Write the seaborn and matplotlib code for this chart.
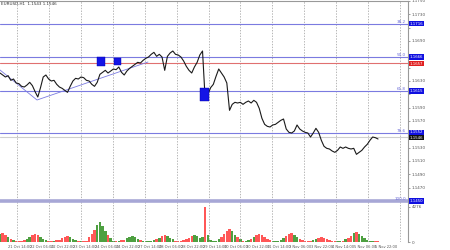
import matplotlib
matplotlib.use("Agg")
import numpy as np
import pandas as pd
import seaborn as sns
import matplotlib.pyplot as plt
import matplotlib.transforms as mtrans
from matplotlib.patches import Rectangle

# ---- data (EURUSD, 2-hour steps, 21 Oct 08:00 -> 6 Nov 00:00) ----
close = [1.1642, 1.1639, 1.1636, 1.1638, 1.1631, 1.1633, 1.1627, 1.1626, 1.1622, 1.1621,
         1.1624, 1.1628, 1.1623, 1.1614, 1.1606, 1.1620, 1.1636, 1.1639, 1.1633, 1.1630,
         1.1631, 1.1625, 1.1621, 1.1619, 1.1616, 1.1613, 1.1622, 1.1630, 1.1634, 1.1633,
         1.1636, 1.1635, 1.1631, 1.1630, 1.1625, 1.1622, 1.1628, 1.1640, 1.1643, 1.1646,
         1.1642, 1.1645, 1.1648, 1.1647, 1.1651, 1.1643, 1.1639, 1.1645, 1.1649, 1.1652,
         1.1655, 1.1658, 1.1657, 1.1661, 1.1664, 1.1666, 1.1670, 1.1673, 1.1667, 1.1670,
         1.1666, 1.1646, 1.1667, 1.1672, 1.1675, 1.1670, 1.1669, 1.1666, 1.1660, 1.1652,
         1.1646, 1.1642, 1.1651, 1.1658, 1.1669, 1.1675, 1.1601, 1.1610, 1.1620, 1.1625,
         1.1637, 1.1648, 1.1642, 1.1636, 1.1627, 1.1586, 1.1595, 1.1598, 1.1597, 1.1598,
         1.1595, 1.1598, 1.1600, 1.1597, 1.1601, 1.1598, 1.1589, 1.1574, 1.1565, 1.1562,
         1.1561, 1.1564, 1.1565, 1.1568, 1.1571, 1.1573, 1.1558, 1.1553, 1.1552, 1.1555,
         1.1564, 1.1558, 1.1555, 1.1553, 1.1552, 1.1546, 1.1552, 1.1559, 1.1553, 1.1541,
         1.1532, 1.1529, 1.1528, 1.1525, 1.1523, 1.1526, 1.1531, 1.1529, 1.1531, 1.1529,
         1.1528, 1.1529, 1.1520, 1.1523, 1.1526, 1.1531, 1.1535, 1.1541, 1.1546, 1.1545,
         1.1543]

volume = [960, 1130, 900, 620, 400, 230, 130, 110, 120, 280,
          400, 600, 860, 1010, 810, 560, 350, 200, 120, 130,
          110, 190, 300, 460, 650, 760, 610, 420, 270, 150,
          120, 130, 140, 600, 950, 1430, 2030, 2390, 1910, 1310,
          840, 480, 150, 120, 130, 190, 300, 460, 650, 760,
          610, 420, 270, 150, 120, 130, 120, 220, 350, 530,
          750, 880, 700, 480, 310, 180, 130, 120, 220, 350,
          530, 750, 880, 700, 480, 600, 4276, 900, 300, 150,
          130, 410, 660, 980, 1390, 1640, 1310, 900, 570, 330,
          150, 130, 250, 400, 610, 860, 1010, 810, 560, 350,
          200, 130, 120, 130, 280, 450, 680, 960, 1130, 900,
          620, 400, 230, 130, 120, 160, 250, 380, 540, 630,
          500, 350, 220, 130, 120, 130, 110, 120, 320, 500,
          760, 1070, 1260, 1010, 690, 440, 250, 140, 120, 110,
          100]

xtick_idx = [3, 11, 19, 27, 35, 43, 51, 59, 67, 75, 83, 91, 99, 107, 115, 123, 131, 139]
xtick_labels = ["21 Oct 14:00", "22 Oct 06:00", "22 Oct 22:00", "23 Oct 14:00",
                "24 Oct 06:00", "24 Oct 22:00", "27 Oct 14:00", "28 Oct 06:00",
                "28 Oct 22:00", "29 Oct 14:00", "30 Oct 06:00", "30 Oct 22:00",
                "31 Oct 14:00", "3 Nov 06:00", "3 Nov 22:00", "4 Nov 14:00",
                "5 Nov 06:00", "5 Nov 22:00"]

price_ticks = [1.1750, 1.1730, 1.1710, 1.1690, 1.1670, 1.1650, 1.1630, 1.1610,
               1.1590, 1.1570, 1.1550, 1.1530, 1.1510, 1.1490, 1.1470]
volume_ticks = [0, 4276]

level_names = ["38.2", "50.0", "", "61.8", "78.6", "", "100.0"]
level_prices = [1.1716, 1.1666, 1.1657, 1.1615, 1.1552, 1.1546, 1.1450]

box_start = [35.9, 42.2, 74.1]
box_end = [38.9, 44.8, 77.4]
box_low = [1.16525, 1.1654, 1.1600]
box_high = [1.1666, 1.16645, 1.16195]

trend_idx = [0, 13.7, 54.8]
trend_price = [1.16465, 1.16015, 1.16585]

title_text = "EURUSD,H1  1.1543 1.1546"

# ---- styles ----
level_line_colors = ["#7b7be0", "#7b7be0", "#e07070", "#7b7be0", "#7b7be0", "#cfcfcf", "#a7a7d6"]
level_line_widths = [0.8, 0.8, 0.8, 0.8, 0.8, 0.8, 2.6]
level_box_colors = ["#1010e0", "#1010e0", "#e02020", "#1010e0", "#1010e0", "#111111", "#1010e0"]
level_tag_offsets = [0, 0, -0.0001, 0, 0.0001, -0.0001, 0]

sns.set_style("white")
plt.rcParams["font.family"] = ["DejaVu Sans"]

df = pd.DataFrame({"idx": np.arange(len(close)), "close": close, "volume": volume})
df["up"] = df["close"].diff().fillna(0) >= 0

fig = plt.figure(figsize=(4.5, 2.5), dpi=100)
ax = fig.add_axes([0.0, 0.032, 0.9067, 0.964])
axv = ax.twinx()
axv.set_zorder(0)
ax.set_zorder(1)
ax.patch.set_visible(False)

# volume histogram
vcolors = np.where(df["up"], "#2f8f1f", "#ff3a3a")
axv.bar(df["idx"], df["volume"], width=0.9, color=vcolors, alpha=0.85, linewidth=0)
axv.set_ylim(0, 4276 * 241 / 35)
axv.set_yticks(volume_ticks)
axv.set_yticklabels([str(v) for v in volume_ticks])
axv.tick_params(axis="y", labelsize=3, length=1.5, width=0.4, pad=1, colors="#555555")
for s in axv.spines.values():
    s.set_visible(False)

# horizontal levels
for p, c, w in zip(level_prices, level_line_colors, level_line_widths):
    ax.axhline(p, color=c, lw=w, zorder=1)

# trend line
ax.plot(trend_idx, trend_price, color="#7b7be0", lw=0.6, zorder=2)

# price line
sns.lineplot(data=df, x="idx", y="close", ax=ax, color="#1a1a1a", lw=0.8, zorder=3)

# boxes
for x0, x1, lo, hi in zip(box_start, box_end, box_low, box_high):
    ax.add_patch(Rectangle((x0, lo), x1 - x0, hi - lo, facecolor="#1414e6",
                           edgecolor="#0000aa", lw=0.3, zorder=4))

ax.set_xlim(0, 151.1)
ax.set_ylim(1.1750 - 241 * 0.00015, 1.1750)

# price ticks: hide labels hidden behind level tags (as the terminal does)
ax.yaxis.tick_right()
ax.set_yticks(price_ticks)
shown = [f"{p:.4f}" if min(abs(p - q) for q in level_prices) > 0.0007 else ""
         for p in price_ticks]
ax.set_yticklabels(shown)
ax.tick_params(axis="y", labelsize=3, length=1.5, width=0.4, pad=1, colors="#555555")

ax.set_xticks(xtick_idx)
ax.set_xticklabels(xtick_labels, ha="left")
ax.tick_params(axis="x", labelsize=2.6, length=1.2, width=0.4, pad=0.6, colors="#555555")
grid_pos = [6.3 + 11.82 * k for k in range(13)]
ax.set_xticks(grid_pos, minor=True)
ax.tick_params(axis="x", which="minor", length=0)
ax.grid(which="minor", axis="x", color="#9a9a9a", lw=0.5, linestyle=(0, (2, 2)))
ax.set_xlabel("")
ax.set_ylabel("")
axv.set_ylabel("")

for name, s in ax.spines.items():
    s.set_color("#999999")
    s.set_linewidth(0.8)
ax.spines["left"].set_visible(False)
ax.spines["bottom"].set_visible(False)

# level tags
trans = mtrans.blended_transform_factory(ax.transAxes, ax.transData)
for name, p, bc, off in zip(level_names, level_prices, level_box_colors, level_tag_offsets):
    ax.text(1.004, p + off, f"{p:.4f}", transform=trans, fontsize=2.8, color="white",
            va="center", ha="left", clip_on=False, zorder=6,
            bbox=dict(boxstyle="square,pad=0.15", facecolor=bc, edgecolor="none"))
    if name:
        ax.text(0.995, p, name, transform=trans, fontsize=3, color="#6a6ad8",
                va="bottom", ha="right", zorder=6)

ax.text(0.002, 0.995, title_text, transform=ax.transAxes, fontsize=3,
        color="#333333", va="top", ha="left")

fig.savefig("out.png", dpi=100)
